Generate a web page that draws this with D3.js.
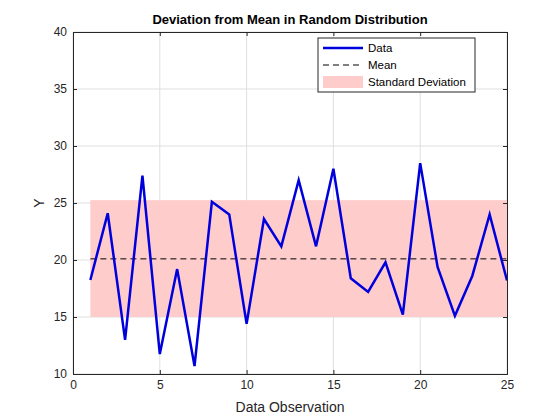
<!DOCTYPE html>
<html><head><meta charset="utf-8">
<script src="https://cdn.jsdelivr.net/npm/d3@7"></script>
<style>body{margin:0;background:#fff}</style></head>
<body><svg id="c" width="560" height="420"></svg>
<script>
const xs = d3.range(1, 26);
const ys = [18.25,24.1,13.0,27.4,11.75,19.2,10.7,25.1,24.0,14.4,23.6,21.2,27.0,21.2,28.0,18.4,17.2,19.8,15.2,28.5,19.4,15.1,18.6,24.0,18.2];
const meanVal = 20.1, sdLow = 15.0, sdHigh = 25.25;
const xTicks = [0,5,10,15,20,25], yTicks = [10,15,20,25,30,35,40];
const m = {l:73, r:507, t:32, b:374};
const svg = d3.select("#c");
const x = d3.scaleLinear().domain([0,25]).range([m.l,m.r]);
const y = d3.scaleLinear().domain([10,40]).range([m.b,m.t]);
const font = "Liberation Sans, Arial, sans-serif";
svg.append("rect").attr("x",m.l).attr("y",m.t).attr("width",m.r-m.l).attr("height",m.b-m.t).attr("fill","#fff");
const g = svg.append("g");
xTicks.forEach(t=>g.append("line").attr("x1",x(t)).attr("x2",x(t)).attr("y1",m.t).attr("y2",m.b).attr("stroke","#dfdfdf"));
yTicks.forEach(t=>g.append("line").attr("y1",y(t)).attr("y2",y(t)).attr("x1",m.l).attr("x2",m.r).attr("stroke","#dfdfdf"));
svg.append("rect").attr("x",x(1)).attr("width",x(25)-x(1)).attr("y",y(sdHigh)).attr("height",y(sdLow)-y(sdHigh)).attr("fill","#ffcccc");
svg.append("line").attr("x1",x(1)).attr("x2",x(25)).attr("y1",y(meanVal)).attr("y2",y(meanVal)).attr("stroke","#000").attr("stroke-dasharray","6,4");
svg.append("path").datum(xs.map((d,i)=>[d,ys[i]])).attr("d",d3.line().x(d=>x(d[0])).y(d=>y(d[1]))).attr("fill","none").attr("stroke","#0000dd").attr("stroke-width",2.5);
const ax = svg.append("g").attr("transform",`translate(0,${m.b})`).call(d3.axisBottom(x).tickValues(xTicks).tickSize(-4).tickPadding(6));
const ay = svg.append("g").attr("transform",`translate(${m.l},0)`).call(d3.axisLeft(y).tickValues(yTicks).tickSize(-4).tickPadding(6));
svg.append("g").attr("transform",`translate(0,${m.t})`).call(d3.axisTop(x).tickValues(xTicks).tickSize(-4).tickFormat(""));
svg.append("g").attr("transform",`translate(${m.r},0)`).call(d3.axisRight(y).tickValues(yTicks).tickSize(-4).tickFormat(""));
svg.selectAll(".domain,.tick line").attr("stroke","#262626");
svg.selectAll(".tick text").attr("font-family",font).attr("font-size",12).attr("fill","#262626");
svg.append("text").attr("x",(m.l+m.r)/2).attr("y",24).attr("text-anchor","middle").attr("font-family",font).attr("font-size",13).attr("font-weight","bold").text("Deviation from Mean in Random Distribution");
svg.append("text").attr("x",(m.l+m.r)/2).attr("y",412).attr("text-anchor","middle").attr("font-family",font).attr("font-size",14).attr("fill","#262626").text("Data Observation");
svg.append("text").attr("transform",`translate(44,${(m.t+m.b)/2}) rotate(-90)`).attr("text-anchor","middle").attr("font-family",font).attr("font-size",14).attr("fill","#262626").text("Y");
const lg = svg.append("g").attr("transform","translate(318,38)");
lg.append("rect").attr("width",157).attr("height",54).attr("fill","#fff").attr("stroke","#262626");
const items = [["Data"],["Mean"],["Standard Deviation"]];
items.forEach((it,i)=>{
  const cy = 10+i*17;
  if(i==0) lg.append("line").attr("x1",5).attr("x2",45).attr("y1",cy).attr("y2",cy).attr("stroke","#0000dd").attr("stroke-width",2.5);
  if(i==1) lg.append("line").attr("x1",5).attr("x2",45).attr("y1",cy).attr("y2",cy).attr("stroke","#000").attr("stroke-dasharray","6,4");
  if(i==2) lg.append("rect").attr("x",5).attr("width",40).attr("y",cy-6).attr("height",12).attr("fill","#ffcccc");
  lg.append("text").attr("x",50).attr("y",cy+4).attr("font-family",font).attr("font-size",11.5).text(it[0]);
});
</script></body></html>
